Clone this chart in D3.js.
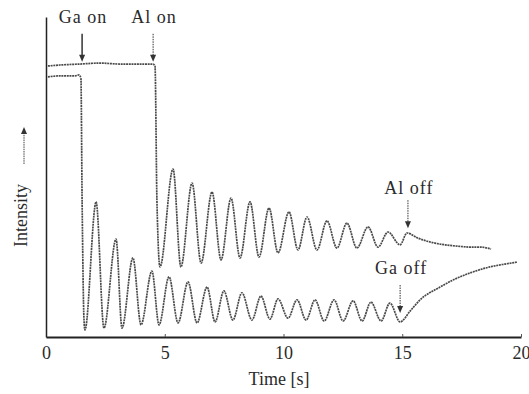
<html>
<head>
<script src="https://d3js.org/d3.v7.min.js"></script>
<style>
body { margin: 0; background: #fff; }
svg { display: block; }
text { font-family: 'Liberation Serif', 'Times New Roman', serif; fill: #2a2a2a; }
</style>
</head>
<body>
<svg width="529" height="394"></svg>
<script>

// tick labels of the time axis
var timeTicks = [0, 5, 10, 15, 20];

// upper trace (drops when the Al shutter opens), time [s] / intensity [a.u.]
var tUpper = [0.08, 0.59, 1.43, 2.27, 3.12, 3.96, 4.51, 4.59, 4.67, 4.80, 5.35, 5.68, 6.15, 6.53, 6.99, 7.37, 7.79, 8.17, 8.59, 8.97, 9.39, 9.77, 10.23, 10.61, 10.99, 11.41, 11.83, 12.25, 12.67, 13.09, 13.56, 13.98, 14.40, 14.91, 15.20, 15.66, 16.17, 16.80, 17.31, 17.85, 18.27, 18.74];
var iUpper = [84.7, 85.0, 85.3, 85.6, 85.3, 85.3, 85.3, 84.7, 42.8, 21.9, 52.5, 21.9, 48.1, 23.1, 45.3, 24.1, 43.4, 24.7, 42.2, 25.0, 40.3, 26.3, 39.1, 27.2, 37.5, 27.2, 36.3, 27.8, 35.6, 27.8, 34.4, 28.1, 32.8, 28.8, 32.5, 30.9, 29.7, 28.8, 28.4, 28.1, 28.1, 27.5];

// lower trace (drops when the Ga shutter opens)
var tLower = [0.08, 0.59, 1.22, 1.39, 1.47, 1.52, 1.60, 1.64, 2.11, 2.44, 2.95, 3.20, 3.66, 4.00, 4.46, 4.76, 5.18, 5.56, 5.98, 6.36, 6.78, 7.12, 7.49, 7.87, 8.25, 8.67, 9.05, 9.43, 9.77, 10.19, 10.57, 10.95, 11.33, 11.71, 12.13, 12.51, 12.93, 13.31, 13.68, 14.11, 14.48, 14.91, 15.33, 15.75, 16.59, 17.22, 17.85, 18.69, 19.33, 19.83];
var iLower = [81.3, 81.6, 81.6, 81.9, 80.9, 42.8, 5.3, 2.2, 42.2, 2.8, 30.6, 2.8, 24.7, 3.8, 20.6, 3.8, 18.8, 4.4, 17.2, 4.4, 15.6, 4.7, 14.4, 5.3, 13.8, 5.3, 12.8, 5.6, 11.9, 5.9, 11.6, 5.3, 11.6, 5.0, 11.6, 5.0, 11.3, 5.0, 10.9, 5.0, 10.6, 4.7, 8.1, 11.6, 15.6, 18.1, 20.0, 21.9, 22.8, 23.4];

// shutter events: name, time, intensity at arrow tip
var eventNames = ["Ga on", "Al on", "Al off", "Ga off"];
var eventTimes = [1.52, 4.51, 15.24, 14.91];
var eventLevels = [86, 86, 34, 7.5];

var svg = d3.select("svg");

var x = d3.scaleLinear().domain([0, 20]).range([46, 521]);
var y = d3.scaleLinear().domain([0, 100]).range([337, 17]);

// axes
var xAxis = svg.append("g")
  .attr("transform", "translate(0,337)")
  .call(d3.axisBottom(x).tickValues(timeTicks).tickSizeInner(-3).tickSizeOuter(0).tickPadding(9));
xAxis.select(".domain").attr("stroke", "#222").attr("stroke-width", 1.8);
xAxis.selectAll(".tick line").attr("stroke", "#555");
xAxis.selectAll("text").attr("font-size", 18).attr("font-family", "Liberation Serif").attr("fill", "#333");

var yAxis = svg.append("g")
  .attr("transform", "translate(46,0)")
  .call(d3.axisLeft(y).tickValues([]).tickSizeOuter(0));
yAxis.select(".domain").attr("stroke", "#222").attr("stroke-width", 1.5);

// axis titles
svg.append("text")
  .attr("x", 279).attr("y", 385)
  .attr("text-anchor", "middle")
  .attr("font-size", 18)
  .text("Time [s]");

svg.append("text")
  .attr("transform", "translate(27,247) rotate(-90)")
  .attr("font-size", 18)
  .text("Intensity");

svg.append("line")
  .attr("x1", 24).attr("y1", 164).attr("x2", 24).attr("y2", 133)
  .attr("stroke", "#444").attr("stroke-width", 1).attr("stroke-dasharray", "1.5,0.8");
svg.append("path")
  .attr("d", "M21,134 L24,127 L27,134 Z")
  .attr("fill", "#333");

// traces
var line = d3.line()
  .x(function (d) { return x(d[0]); })
  .y(function (d) { return y(d[1]); })
  .curve(d3.curveMonotoneX);

var traces = [d3.zip(tUpper, iUpper), d3.zip(tLower, iLower)];

svg.selectAll("path.trace")
  .data(traces).enter()
  .append("path")
  .attr("class", "trace")
  .attr("d", line)
  .attr("fill", "none")
  .attr("stroke", "#4a4a4a")
  .attr("stroke-width", 1.7)
  .attr("stroke-dasharray", "2,0.7");

// shutter arrows and labels
var events = eventNames.map(function (n, i) {
  return { name: n, t: eventTimes[i], v: eventLevels[i], solid: i === 0 };
});
var labelGap = [11, 11, 6, 11];

var ev = svg.selectAll("g.event").data(events).enter()
  .append("g").attr("class", "event")
  .attr("transform", function (d) { return "translate(" + x(d.t) + "," + y(d.v) + ")"; });

ev.append("line")
  .attr("x1", 0).attr("x2", 0).attr("y1", -28).attr("y2", -4)
  .attr("stroke", "#333")
  .attr("stroke-width", function (d) { return d.solid ? 1.5 : 1; })
  .attr("stroke-dasharray", function (d) { return d.solid ? null : "1.5,1"; });

ev.append("path")
  .attr("d", "M-3,-7 L0,0 L3,-7 Z")
  .attr("fill", "#333");

ev.append("text")
  .attr("x", 1)
  .attr("y", function (d, i) { return -28 - labelGap[i]; })
  .attr("text-anchor", "middle")
  .attr("font-size", 18)
  .attr("letter-spacing", 1)
  .text(function (d) { return d.name; });

</script>
</body>
</html>
